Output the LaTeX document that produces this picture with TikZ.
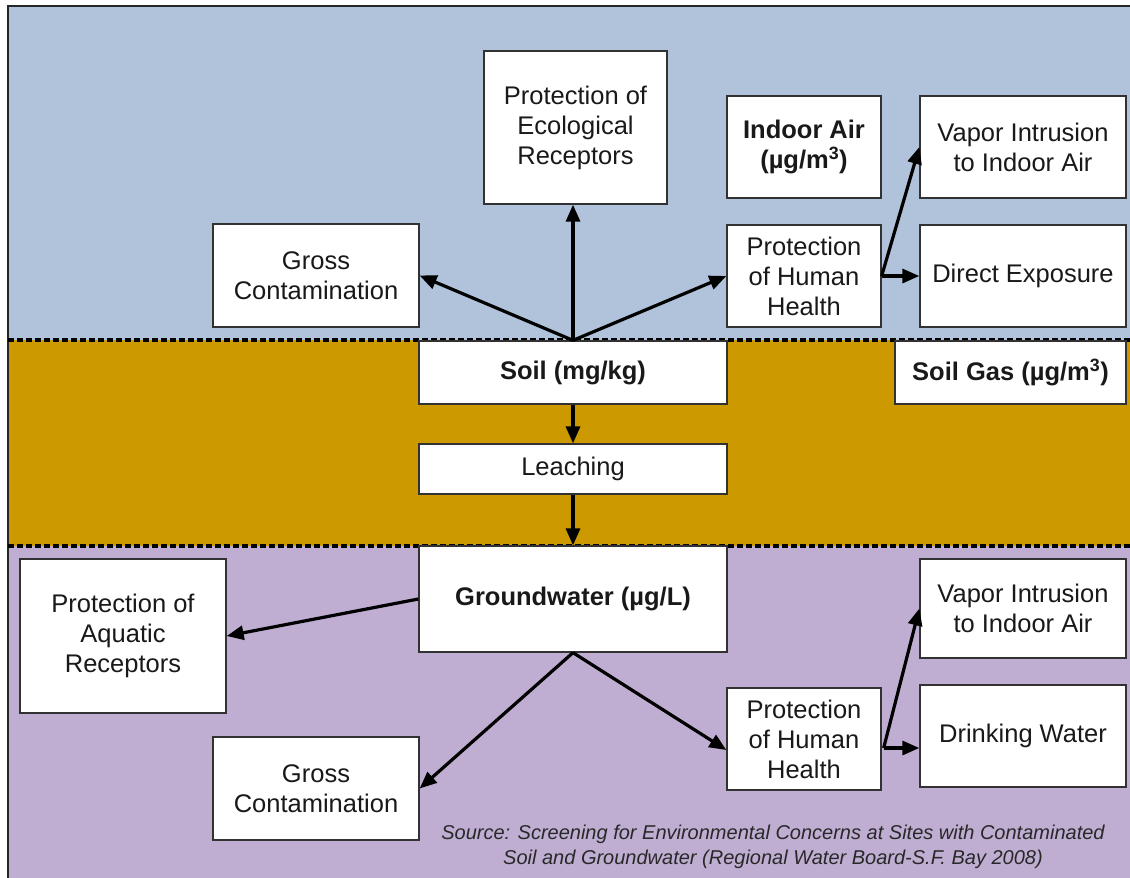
\documentclass[tikz,border=0pt]{standalone}
\usepackage{fontspec}
\setmainfont{Liberation Sans}
\usetikzlibrary{arrows.meta,calc}
\definecolor{skyband}{RGB}{176,195,219}
\definecolor{soilband}{RGB}{204,153,0}
\definecolor{waterband}{RGB}{191,174,210}
\definecolor{boxline}{RGB}{50,50,50}
\definecolor{srctext}{RGB}{40,40,40}
\begin{document}
\begin{tikzpicture}[x=1pt,y=-1pt,
  box/.style={draw=boxline,line width=1.3pt,fill=white,align=center,inner sep=0pt,
    font=\fontsize{25.5}{30}\selectfont,text=black!90},
  boldbox/.style={box,font=\fontsize{25.5}{30}\selectfont\bfseries},
  arr/.style={line width=3.2pt,-{Triangle[length=17pt,width=14pt]}},
  layerline/.style={line width=3.2pt,dash pattern=on 6pt off 3pt}]
\useasboundingbox (0,0) rectangle (1130,878);
% layers
\fill[skyband] (8,6) rectangle (1130,340);
\fill[soilband] (8,340) rectangle (1130,546);
\fill[waterband] (8,546) rectangle (1130,878);
\draw[line width=2pt,black!85] (8,878) -- (8,6) -- (1130,6);
\draw[layerline] (8,340) -- (1130,340);
\draw[layerline] (8,546) -- (1130,546);
% air / surface boxes
\node[box,minimum width=183pt,minimum height=153pt] (eco) at (575.5,127.5) {Protection of\\Ecological\\Receptors};
\node[box,minimum width=206pt,minimum height=103pt] (gc1) at (316,275.5) {Gross\\Contamination};
\node[boldbox,minimum width=154pt,minimum height=102pt] (ia) at (804,147) {Indoor Air\\(µg/m\textsuperscript{3})};
\node[box,minimum width=206pt,minimum height=102pt] (vi1) at (1023,147) {Vapor Intrusion\\to Indoor Air};
\node[box,minimum width=154pt,minimum height=102pt] (hh1) at (804,276) {Protection\\of Human\\Health};
\node[box,minimum width=206pt,minimum height=102pt] (de) at (1023,276) {Direct Exposure};
% soil layer boxes
\node[boldbox,minimum width=308pt,minimum height=63pt] (soil) at (573,372.5) {Soil (mg/kg)};
\node[boldbox,minimum width=231pt,minimum height=63pt] (sg) at (1010.5,372.5) {Soil Gas (µg/m\textsuperscript{3})};
\node[box,minimum width=308pt,minimum height=50pt] (leach) at (573,469) {Leaching};
% groundwater layer boxes
\node[boldbox,minimum width=308pt,minimum height=106pt] (gw) at (573,599) {Groundwater (µg/L)};
\node[box,minimum width=206pt,minimum height=154pt] (aq) at (123,636) {Protection of\\Aquatic\\Receptors};
\node[box,minimum width=206pt,minimum height=99pt] (vi2) at (1023,608.5) {Vapor Intrusion\\to Indoor Air};
\node[box,minimum width=154pt,minimum height=102pt] (hh2) at (804,739) {Protection\\of Human\\Health};
\node[box,minimum width=206pt,minimum height=102pt] (dw) at (1023,736) {Drinking Water};
\node[box,minimum width=206pt,minimum height=103pt] (gc2) at (316,788.5) {Gross\\Contamination};
% connectors
\draw[arr] (soil.north) -- (soil.north |- eco.south);
\draw[arr] (soil.north) -- (gc1.east);
\draw[arr] (soil.north) -- (hh1.west);
\draw[arr] (hh1.east) -- (vi1.west);
\draw[arr] (hh1.east) -- (de.west);
\draw[arr] (soil.south) -- (leach.north);
\draw[arr] (leach.south) -- (gw.north);
\draw[arr] (gw.west) -- (aq.east);
\draw[arr] (gw.south) -- (gc2.east);
\draw[arr] (gw.south) -- ($(hh2.west)+(0,11)$);
\coordinate (hfork) at ($(hh2.east)+(2,9)$);
\draw[arr] (hfork) -- (vi2.west);
\draw[arr] (hfork) -- (hfork -| dw.west);
% citation
\node[align=center,font=\fontsize{20}{25}\selectfont\itshape,text=srctext] (src) at (773,847)
  {Source: Screening for Environmental Concerns at Sites with Contaminated\\Soil and Groundwater (Regional Water Board-S.F. Bay 2008)};
\end{tikzpicture}
\end{document}
